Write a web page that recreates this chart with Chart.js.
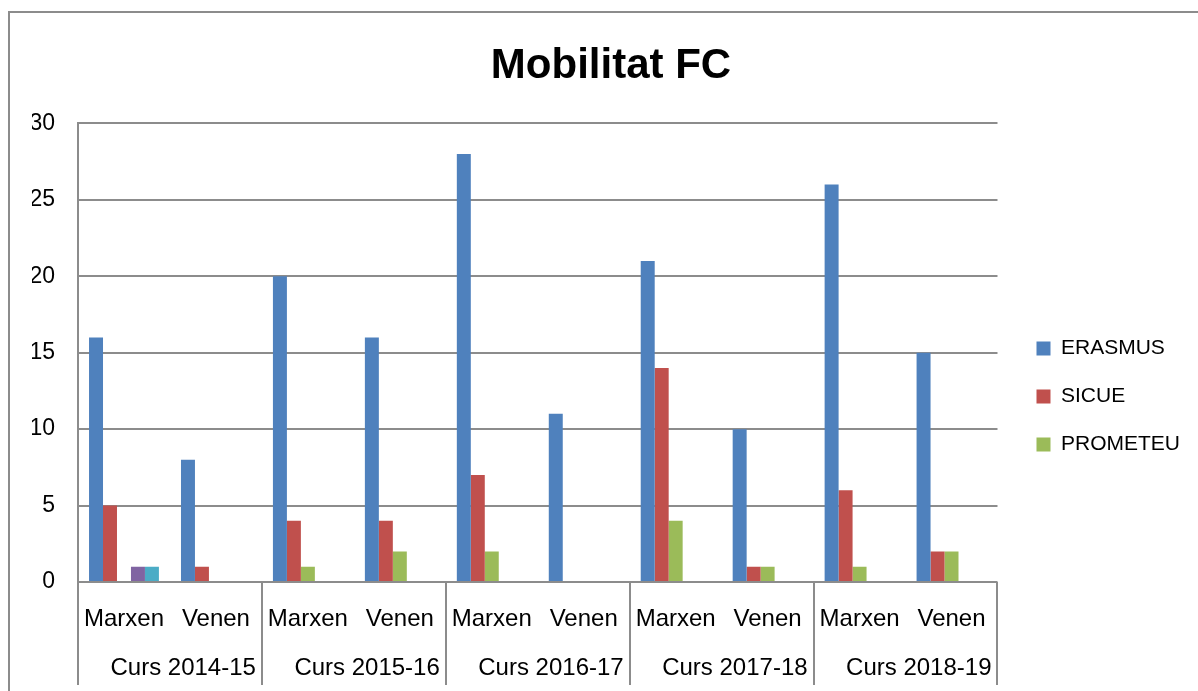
<!DOCTYPE html>
<html>
<head>
<meta charset="utf-8">
<script src="https://cdn.jsdelivr.net/npm/chart.js@4/dist/chart.umd.min.js"></script>
<style>
  html, body { margin: 0; padding: 0; background: #fff; overflow: hidden; }
  #frame { position: absolute; left: 8px; top: 11px; width: 1300px; height: 800px; border: 2px solid #8c8c8c; }
  #wrap { position: absolute; left: 0; top: 0; width: 1198px; height: 691px; }
</style>
</head>
<body>
<div id="frame"></div>
<div id="wrap"><canvas id="mobChart"></canvas></div>
<script>
// categories
const categories = ["Marxen", "Venen", "Marxen", "Venen", "Marxen", "Venen", "Marxen", "Venen", "Marxen", "Venen"];
const courses = ["Curs 2014-15", "Curs 2015-16", "Curs 2016-17", "Curs 2017-18", "Curs 2018-19"];

// series
const erasmus  = [16, 8, 20, 16, 28, 11, 21, 10, 26, 15];
const sicue    = [5, 1, 4, 4, 7, 0, 14, 1, 6, 2];
const prometeu = [0, 0, 1, 2, 2, 0, 4, 1, 1, 2];
const altres1  = [1, 0, 0, 0, 0, 0, 0, 0, 0, 0];
const altres2  = [1, 0, 0, 0, 0, 0, 0, 0, 0, 0];

const yTicks = [0, 5, 10, 15, 20, 25, 30];

const gridColor = "#8c8c8c";
const font = "'Liberation Sans', Arial, sans-serif";

// group labels + separators under the category axis
const groupAxis = {
    id: "groupAxis",
    afterDraw(chart) {
        const x = chart.scales.x;
        const ctx = chart.ctx;
        const cw = x.width / categories.length;
        ctx.save();
        ctx.strokeStyle = gridColor;
        ctx.lineWidth = 2;
        for (let g = 0; g <= courses.length; g++) {
            const px = Math.round(x.left + g * 2 * cw);
            ctx.beginPath();
            ctx.moveTo(px, x.top);
            ctx.lineTo(px, x.top + 103);
            ctx.stroke();
        }
        ctx.fillStyle = "#000";
        ctx.font = "24px " + font;
        ctx.textAlign = "right";
        ctx.textBaseline = "middle";
        courses.forEach(function(c, g) {
            const right = x.left + (g + 1) * 2 * cw;
            ctx.fillText(c, right - 6, x.top + 86);
        });
        ctx.restore();
    }
};

document.addEventListener("DOMContentLoaded", function() {
    const ctx = document.getElementById("mobChart").getContext("2d");
    new Chart(ctx, {
        type: "bar",
        data: {
            labels: categories,
            datasets: [
                { label: "ERASMUS", data: erasmus, backgroundColor: "#4F81BD" },
                { label: "SICUE", data: sicue, backgroundColor: "#C0504D" },
                { label: "PROMETEU", data: prometeu, backgroundColor: "#9BBB59" },
                { label: "Sèrie 4", data: altres1, backgroundColor: "#8064A2" },
                { label: "Sèrie 5", data: altres2, backgroundColor: "#4BACC6" }
            ]
        },
        options: {
            responsive: true,
            maintainAspectRatio: false,
            animation: false,
            barPercentage: 1,
            categoryPercentage: 0.76,
            layout: { padding: { top: 14, left: 32, right: 8, bottom: 22 } },
            plugins: {
                title: {
                    display: true,
                    text: "Mobilitat FC",
                    color: "#000",
                    font: { family: font, size: 42, weight: "bold" },
                    padding: { top: 27, bottom: 32 }
                },
                legend: {
                    position: "right",
                    title: { display: true, text: " ", font: { size: 20 }, padding: 43 },
                    labels: {
                        color: "#000",
                        font: { family: font, size: 21 },
                        boxWidth: 14,
                        boxHeight: 14,
                        padding: 27,
                        filter: function(item) { return item.datasetIndex < 3; }
                    }
                },
                tooltip: { enabled: false }
            },
            scales: {
                x: {
                    grid: { display: false },
                    border: { display: false },
                    ticks: {
                        color: "#000",
                        font: { family: font, size: 24 },
                        padding: 15,
                        maxRotation: 0,
                        autoSkip: false
                    },
                    afterFit: function(s) { s.height = 87; }
                },
                y: {
                    min: 0,
                    max: 30,
                    afterBuildTicks: function(s) { s.ticks = yTicks.map(function(v) { return { value: v }; }); },
                    grid: { color: gridColor, lineWidth: 2, drawTicks: false },
                    border: { color: gridColor, width: 2 },
                    ticks: {
                        color: "#000",
                        font: { family: font, size: 23 },
                        padding: 23
                    },
                    afterFit: function(s) { s.width = 46; }
                },
                pad: {
                    position: "right",
                    display: true,
                    grid: { display: false },
                    border: { display: false },
                    ticks: { display: false },
                    afterFit: function(s) { s.width = 12; }
                }
            }
        },
        plugins: [groupAxis]
    });
});
</script>
</body>
</html>
